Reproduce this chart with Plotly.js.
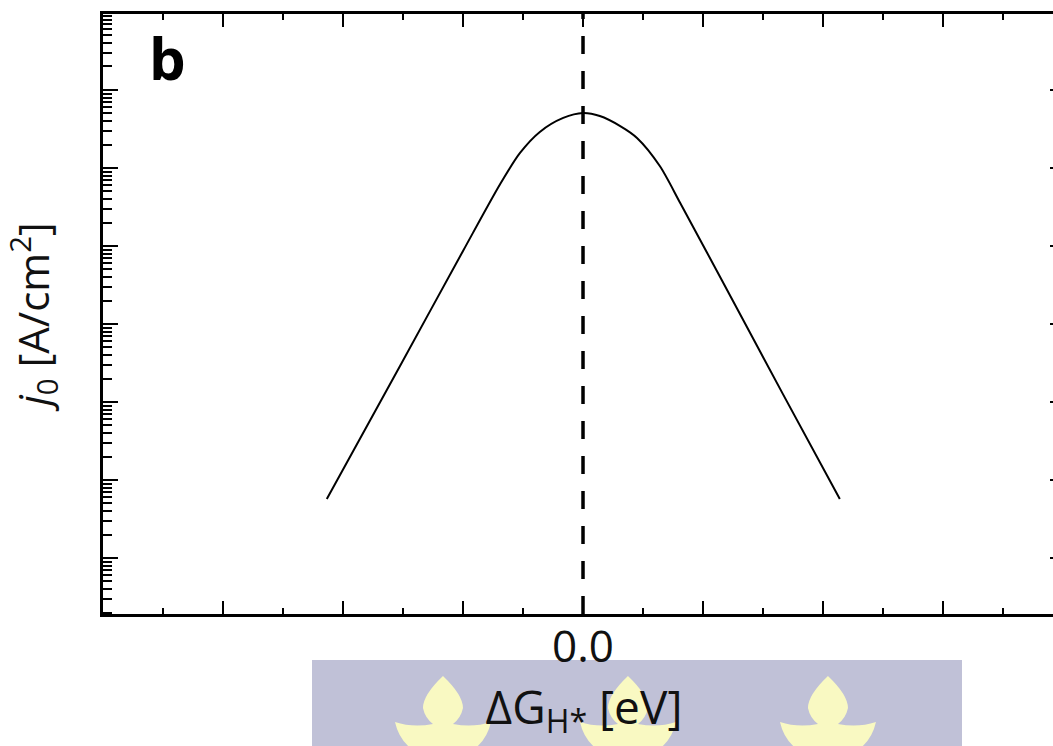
<!DOCTYPE html>
<html>
<head>
<meta charset="utf-8">
<script src="https://cdn.plot.ly/plotly-3.0.1.min.js"></script>
<style>
  html, body { margin: 0; padding: 0; background: #ffffff; overflow: hidden; }
  #chart { width: 1082px; height: 746px; }
</style>
</head>
<body>
<div id="chart"></div>
<script>
// Volcano curve: exchange current density vs. hydrogen adsorption free energy
const dG = [-0.427, -0.305, -0.200, -0.138, -0.105, -0.072, -0.033, 0.000,
            0.028, 0.062, 0.090, 0.128, 0.162, 0.207, 0.250, 0.333, 0.428];
const j0 = [5.70e-8, 2.90e-6, 8.63e-5, 6.24e-4, 1.56e-3, 2.90e-3, 4.38e-3, 5.07e-3,
            4.64e-3, 3.45e-3, 2.43e-3, 1.06e-3, 3.56e-4, 8.13e-5, 1.97e-5, 1.27e-6, 5.70e-8];

// x ticks: only the zero tick carries a label
const xTickVals = [-0.8, -0.6, -0.4, -0.2, 0.0, 0.2, 0.4, 0.6, 0.8];
const xTickText = ['', '', '', '', '0.0', '', '', '', ''];
const panelLabel = 'b';

// plot-area geometry (pixels) used to place the banner decoration
const W = 1082, H = 746;
const M = { l: 103, r: 17, t: 14, b: 132 };
const pw = W - M.l - M.r, ph = H - M.t - M.b;
const px = x => (x - M.l) / pw;
const py = y => (M.t + ph - y) / ph;

function flame(cx) {
  const p = (x, y) => px(cx + x).toFixed(4) + ',' + py(y).toFixed(4);
  return 'M' + p(0, 676) +
    ' Q' + p(20, 695) + ' ' + p(20, 708) +
    ' Q' + p(18, 718) + ' ' + p(10, 724) +
    ' Q' + p(30, 728) + ' ' + p(48, 722) +
    ' Q' + p(44, 740) + ' ' + p(30, 750) +
    ' L' + p(-30, 750) +
    ' Q' + p(-44, 740) + ' ' + p(-48, 722) +
    ' Q' + p(-30, 728) + ' ' + p(-10, 724) +
    ' Q' + p(-18, 718) + ' ' + p(-20, 708) +
    ' Q' + p(-20, 695) + ' ' + p(0, 676) + ' Z';
}

const shapes = [
  { type: 'rect', xref: 'paper', yref: 'paper', layer: 'below',
    x0: px(312), x1: px(962), y0: py(660), y1: py(760),
    fillcolor: '#c0c1d7', line: { width: 0 } },
  ...[443, 628, 828].map(cx => ({
    type: 'path', xref: 'paper', yref: 'paper', layer: 'below',
    path: flame(cx), fillcolor: '#f9f9c2', line: { width: 0 } })),
  { type: 'line', xref: 'x', yref: 'paper', x0: 0, x1: 0, y0: 0, y1: 1,
    line: { color: '#000000', width: 3.5, dash: '18px,17px' } }
];

const trace = {
  x: dG, y: j0, type: 'scatter', mode: 'lines',
  line: { color: '#000000', width: 2, shape: 'spline', smoothing: 0.8 },
  hoverinfo: 'skip'
};

const layout = {
  width: W, height: H,
  margin: M,
  paper_bgcolor: '#ffffff', plot_bgcolor: '#ffffff',
  showlegend: false,
  font: { family: 'Open Sans, sans-serif', color: '#111111' },
  xaxis: {
    range: [-0.8, 0.8033],
    tickmode: 'array', tickvals: xTickVals, ticktext: xTickText,
    ticks: 'inside', ticklen: 13, tickwidth: 2.5, tickcolor: '#000',
    showline: true, linewidth: 3, linecolor: '#000', mirror: 'ticks',
    showgrid: false, zeroline: false,
    tickfont: { size: 44, family: 'Open Sans, sans-serif', color: '#111' },
    ticklabelstandoff: -8,
    minor: { tickmode: 'linear', tick0: -0.7, dtick: 0.2, ticks: 'inside',
             ticklen: 6, tickwidth: 2, tickcolor: '#000', showgrid: false },
    title: { text: 'ΔG<sub>H*</sub> [eV]', standoff: 12,
             font: { size: 46, family: 'Open Sans, sans-serif', color: '#111' } }
  },
  yaxis: {
    type: 'log',
    range: [-8.718, -1.026],
    tickmode: 'linear', tick0: 0, dtick: 1,
    showticklabels: false,
    ticks: 'inside', ticklen: 15, tickwidth: 2.5, tickcolor: '#000',
    showline: true, linewidth: 3, linecolor: '#000', mirror: 'ticks',
    showgrid: false, zeroline: false,
    minor: { dtick: 'D1', ticks: 'inside', ticklen: 9, tickwidth: 2,
             tickcolor: '#000', showgrid: false },
    title: { text: '<i>j</i><sub>0</sub> [A/cm<sup>2</sup>]', standoff: 38,
             font: { size: 42, family: 'Open Sans, sans-serif', color: '#111' } }
  },
  shapes: shapes,
  annotations: [{
    text: '<b>' + panelLabel + '</b>', xref: 'paper', yref: 'paper',
    x: px(147), y: py(16), xanchor: 'left', yanchor: 'top', showarrow: false,
    font: { size: 58, family: 'Open Sans, sans-serif', color: '#000' }
  }]
};

Plotly.newPlot('chart', [trace], layout, { displayModeBar: false, staticPlot: true });
</script>
</body>
</html>
